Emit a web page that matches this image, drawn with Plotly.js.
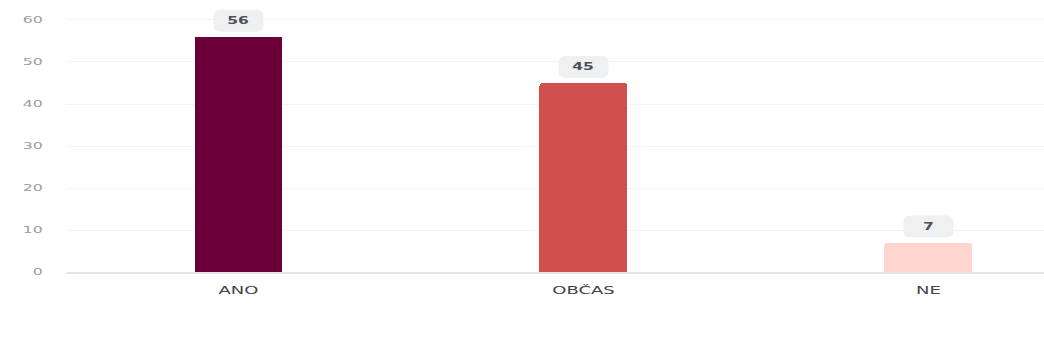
<!DOCTYPE html>
<html>
<head>
<meta charset="utf-8">
<script src="https://cdn.plot.ly/plotly-3.0.1.min.js"></script>
<style>html,body{margin:0;padding:0;background:#fff;}#chart{width:1044px;height:364px;}</style>
</head>
<body>
<div id="chart"></div>
<script>
const categories = ["ANO", "OBČAS", "NE"];
const values = [56, 45, 7];
const barColors = ["#6a0037", "#d04f4f", "#ffd6cf"];
const yTicks = [0, 10, 20, 30, 40, 50, 60];

const trace = {
  type: "bar",
  x: categories,
  y: values,
  width: 0.255,
  marker: { color: barColors, cornerradius: 3, line: { width: 0 } },
  hoverinfo: "none"
};

const badgePath = "M -18,5 L 18,5 Q 25,5 25,12 L 25,20 Q 25,27 18,27 L -18,27 Q -25,27 -25,20 L -25,12 Q -25,5 -18,5 Z";
const shapes = categories.map((c, i) => ({
  type: "path",
  xref: "x", yref: "y",
  xsizemode: "pixel", ysizemode: "pixel",
  xanchor: c, yanchor: values[i],
  path: badgePath,
  fillcolor: "#eff0f1",
  line: { width: 0 },
  layer: "above"
}));
const annotations = categories.map((c, i) => ({
  x: c, y: values[i], xref: "x", yref: "y",
  text: "<b>" + values[i] + "</b>",
  showarrow: false,
  yanchor: "middle", yshift: 16,
  font: { family: "DejaVu Sans, sans-serif", size: 10, color: "#4c5059" }
}));

const layout = {
  width: 1044, height: 364,
  margin: { l: 66, r: 0, t: 0, b: 92 },
  paper_bgcolor: "#ffffff",
  plot_bgcolor: "#ffffff",
  showlegend: false,
  bargap: 0,
  xaxis: {
    type: "category",
    range: [-0.5, 2.335],
    showgrid: false, zeroline: false,
    showline: true, linecolor: "#e4e4ec", linewidth: 1.5,
    ticks: "", ticklabelstandoff: 9,
    tickfont: { family: "DejaVu Sans, sans-serif", size: 10, color: "#444444" },
    fixedrange: true
  },
  yaxis: {
    range: [0, 64.76],
    tickvals: yTicks,
    showgrid: true, gridcolor: "#f3f3f3", gridwidth: 1,
    zeroline: false, showline: false,
    ticks: "", ticklabelstandoff: 22,
    tickfont: { family: "DejaVu Sans, sans-serif", size: 9, color: "#9c9c9c" },
    fixedrange: true
  },
  shapes: shapes,
  annotations: annotations
};

function widen(selector, factor, anchor) {
  document.querySelectorAll(selector).forEach(t => {
    const b = t.getBBox();
    const cx = anchor === "end" ? b.x + b.width : b.x + b.width / 2;
    const prev = t.getAttribute("transform") || "";
    t.setAttribute("transform", prev + " translate(" + cx + ",0) scale(" + factor + ",1) translate(" + (-cx) + ",0)");
  });
}

Plotly.newPlot("chart", [trace], layout, { displayModeBar: false, staticPlot: true }).then(() => {
  widen("#chart .xtick text", 1.8, "middle");
  widen("#chart .ytick text", 1.75, "end");
  widen("#chart .annotation-text", 1.55, "middle");
});
</script>
</body>
</html>
